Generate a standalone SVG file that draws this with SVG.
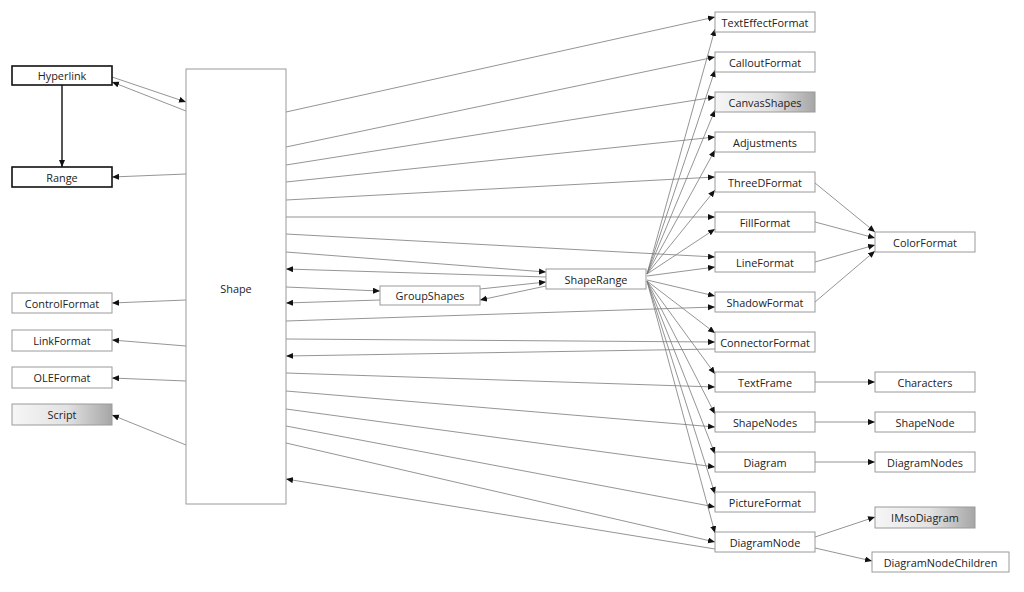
<svg xmlns="http://www.w3.org/2000/svg" width="1024" height="592" viewBox="0 0 1024 592">
<defs>
<linearGradient id="g1" x1="0" y1="0" x2="1" y2="0">
<stop offset="0" stop-color="#f6f6f6"/><stop offset="0.55" stop-color="#e2e2e2"/><stop offset="1" stop-color="#a6a6a6"/>
</linearGradient>
<marker id="ah" markerUnits="userSpaceOnUse" markerWidth="8" markerHeight="7" refX="7" refY="3" orient="auto">
<path d="M0,0 L7,3 L0,6 z" fill="#111"/>
</marker>
</defs>
<style>
.n rect{fill:#fff;stroke:#9a9a9a;stroke-width:1}
.n.b rect{stroke:#111;stroke-width:1.6}
.n.gr rect{fill:url(#g1)}
text{font-family:"Open Sans","Noto Sans",sans-serif;font-size:10.9px;fill:#222;text-anchor:middle;dominant-baseline:central}
#connectors path{fill:none;stroke:#7a7a7a;stroke-width:0.8;marker-end:url(#ah)}
#connectors path.k{stroke:#111;stroke-width:1.4}
</style>
<rect width="1024" height="592" fill="#fff"/>
<g id="connectors">
<path d="M112,77 L186,102"/>
<path d="M186,111 L112,82"/>
<path class="k" d="M62,85 L62,167"/>
<path d="M186,174 L112,177"/>
<path d="M186,300 L112,303"/>
<path d="M186,346 L112,340"/>
<path d="M186,381 L112,378"/>
<path d="M186,445 L112,415"/>
<path d="M286,112 L715,17"/>
<path d="M286,147 L715,57"/>
<path d="M286,165 L715,97"/>
<path d="M286,182 L715,137"/>
<path d="M286,200 L715,177"/>
<path d="M286,217 L715,217"/>
<path d="M286,234 L715,257"/>
<path d="M286,252 L546,272"/>
<path d="M546,277 L286,269"/>
<path d="M286,287 L380,291"/>
<path d="M380,300 L286,303"/>
<path d="M480,289 L546,282"/>
<path d="M546,286 L480,300"/>
<path d="M286,321 L715,307"/>
<path d="M286,339 L715,342"/>
<path d="M715,349 L286,356"/>
<path d="M286,373 L715,387"/>
<path d="M286,391 L715,427"/>
<path d="M286,409 L715,467"/>
<path d="M286,426 L715,507"/>
<path d="M286,443 L715,542"/>
<path d="M715,549 L286,479"/>
<path d="M647,274 L715,29"/>
<path d="M647,274 L715,70"/>
<path d="M647,274 L715,110"/>
<path d="M647,274 L715,150"/>
<path d="M647,274 L715,190"/>
<path d="M647,274 L715,229"/>
<path d="M647,276 L715,267"/>
<path d="M647,280 L715,296"/>
<path d="M647,281 L715,333"/>
<path d="M647,281 L715,374"/>
<path d="M647,281 L715,414"/>
<path d="M647,281 L715,454"/>
<path d="M647,281 L715,494"/>
<path d="M647,281 L715,533"/>
<path d="M815,183 L875,232"/>
<path d="M815,222 L875,238"/>
<path d="M815,262 L875,245"/>
<path d="M815,302 L875,251"/>
<path d="M815,382 L875,382"/>
<path d="M815,422 L875,422"/>
<path d="M815,462 L875,462"/>
<path d="M815,537 L875,517"/>
<path d="M815,548 L872,561"/>
</g>
<g id="Hyperlink" class="n b"><rect x="12" y="66" width="100" height="19"/><text x="62" y="75.5">Hyperlink</text></g>
<g id="Range" class="n b"><rect x="12" y="167" width="100" height="20"/><text x="62" y="177">Range</text></g>
<g id="ControlFormat" class="n"><rect x="12" y="293" width="100" height="20"/><text x="62" y="303">ControlFormat</text></g>
<g id="LinkFormat" class="n"><rect x="12" y="330" width="100" height="21"/><text x="62" y="340.5">LinkFormat</text></g>
<g id="OLEFormat" class="n"><rect x="12" y="367" width="100" height="21"/><text x="62" y="377.5">OLEFormat</text></g>
<g id="Script" class="n gr"><rect x="12" y="404" width="100" height="21"/><text x="62" y="414.5">Script</text></g>
<g id="Shape" class="n"><rect x="186" y="69" width="100" height="435"/><text x="236" y="288">Shape</text></g>
<g id="GroupShapes" class="n"><rect x="380" y="286" width="100" height="19"/><text x="430" y="295.5">GroupShapes</text></g>
<g id="ShapeRange" class="n"><rect x="546" y="269" width="100" height="20"/><text x="596" y="279">ShapeRange</text></g>
<g id="TextEffectFormat" class="n"><rect x="715" y="12" width="100" height="20"/><text x="765" y="22">TextEffectFormat</text></g>
<g id="CalloutFormat" class="n"><rect x="715" y="52" width="100" height="20"/><text x="765" y="62">CalloutFormat</text></g>
<g id="CanvasShapes" class="n gr"><rect x="715" y="92" width="100" height="20"/><text x="765" y="102">CanvasShapes</text></g>
<g id="Adjustments" class="n"><rect x="715" y="132" width="100" height="20"/><text x="765" y="142">Adjustments</text></g>
<g id="ThreeDFormat" class="n"><rect x="715" y="172" width="100" height="20"/><text x="765" y="182">ThreeDFormat</text></g>
<g id="FillFormat" class="n"><rect x="715" y="212" width="100" height="20"/><text x="765" y="222">FillFormat</text></g>
<g id="LineFormat" class="n"><rect x="715" y="252" width="100" height="20"/><text x="765" y="262">LineFormat</text></g>
<g id="ShadowFormat" class="n"><rect x="715" y="292" width="100" height="20"/><text x="765" y="302">ShadowFormat</text></g>
<g id="ConnectorFormat" class="n"><rect x="715" y="332" width="100" height="20"/><text x="765" y="342">ConnectorFormat</text></g>
<g id="TextFrame" class="n"><rect x="715" y="372" width="100" height="20"/><text x="765" y="382">TextFrame</text></g>
<g id="ShapeNodes" class="n"><rect x="715" y="412" width="100" height="20"/><text x="765" y="422">ShapeNodes</text></g>
<g id="Diagram" class="n"><rect x="715" y="452" width="100" height="20"/><text x="765" y="462">Diagram</text></g>
<g id="PictureFormat" class="n"><rect x="715" y="492" width="100" height="20"/><text x="765" y="502">PictureFormat</text></g>
<g id="DiagramNode" class="n"><rect x="715" y="532" width="100" height="20"/><text x="765" y="542">DiagramNode</text></g>
<g id="ColorFormat" class="n"><rect x="875" y="232" width="100" height="20"/><text x="925" y="242">ColorFormat</text></g>
<g id="Characters" class="n"><rect x="875" y="372" width="100" height="20"/><text x="925" y="382">Characters</text></g>
<g id="ShapeNode" class="n"><rect x="875" y="412" width="100" height="20"/><text x="925" y="422">ShapeNode</text></g>
<g id="DiagramNodes" class="n"><rect x="875" y="452" width="100" height="20"/><text x="925" y="462">DiagramNodes</text></g>
<g id="IMsoDiagram" class="n gr"><rect x="875" y="507" width="100" height="21"/><text x="925" y="517.5">IMsoDiagram</text></g>
<g id="DiagramNodeChildren" class="n"><rect x="872" y="552" width="137" height="20"/><text x="940.5" y="562">DiagramNodeChildren</text></g>
</svg>
